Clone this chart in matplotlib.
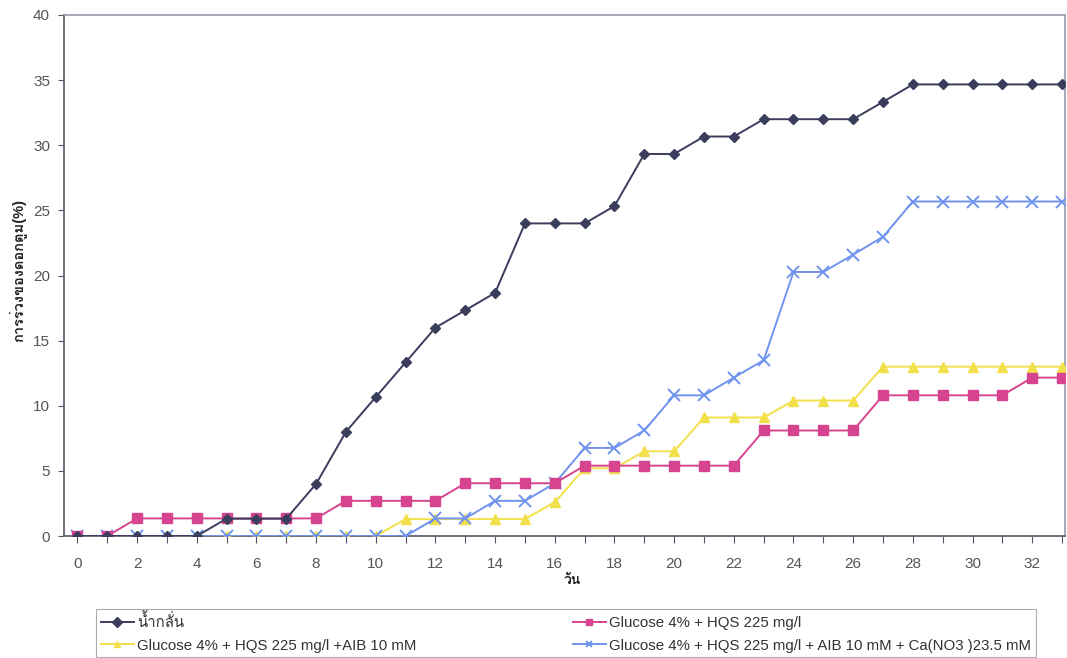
import numpy as np
import matplotlib
matplotlib.use("Agg")
import matplotlib.pyplot as plt
from matplotlib import font_manager, ft2font

# Data

days = list(range(0, 34))
water = [0, 0, 0, 0, 0, 1.33, 1.33, 1.33, 4.0, 8.0,
         10.67, 13.33, 16.0, 17.33, 18.67, 24.0, 24.0, 24.0, 25.33, 29.33,
         29.33, 30.67, 30.67, 32.0, 32.0, 32.0, 32.0, 33.33, 34.67, 34.67,
         34.67, 34.67, 34.67, 34.67]
glu_hqs = [0, 0, 1.35, 1.35, 1.35, 1.35, 1.35, 1.35, 1.35, 2.7,
           2.7, 2.7, 2.7, 4.05, 4.05, 4.05, 4.05, 5.4, 5.4, 5.4,
           5.4, 5.4, 5.4, 8.1, 8.1, 8.1, 8.1, 10.8, 10.8, 10.8,
           10.8, 10.8, 12.16, 12.16]
glu_hqs_aib = [0, 0, 0, 0, 0, 0, 0, 0, 0, 0,
               0, 1.3, 1.3, 1.3, 1.3, 1.3, 2.6, 5.2, 5.2, 6.5,
               6.5, 9.1, 9.1, 9.1, 10.4, 10.4, 10.4, 13.0, 13.0, 13.0,
               13.0, 13.0, 13.0, 13.0]
glu_hqs_aib_ca = [0, 0, 0, 0, 0, 0, 0, 0, 0, 0,
                  0, 0, 1.35, 1.35, 2.7, 2.7, 4.05, 6.76, 6.76, 8.1,
                  10.8, 10.8, 12.16, 13.5, 20.27, 20.27, 21.6, 22.97, 25.68, 25.68,
                  25.68, 25.68, 25.68, 25.68]

labels = ["น้ำกลั่น",
          "Glucose 4% + HQS 225 mg/l",
          "Glucose 4% + HQS 225 mg/l +AIB 10 mM",
          "Glucose 4% + HQS 225 mg/l + AIB 10 mM + Ca(NO3 )23.5 mM"]
xlabel = "วัน"
ylabel = "การร่วงของดอกตูม(%)"
yticks = [0, 5, 10, 15, 20, 25, 30, 35, 40]
xticks = list(range(0, 33, 2))


def thai_family():
    # pick any installed family that has Thai glyphs
    for f in font_manager.fontManager.ttflist:
        try:
            if 0x0E01 in ft2font.FT2Font(f.fname).get_charmap():
                return f.name
        except Exception:
            pass
    return None


thai = thai_family()
families = ["Liberation Sans"] + ([thai] if thai else []) + ["DejaVu Sans"]
plt.rcParams["font.family"] = families

W, H = 1067, 658
fig = plt.figure(figsize=(W/100, H/100), dpi=100)
ax = fig.add_axes([64/W, (H - 536)/H, 1001/W, 521/H])

ax.plot(days, water, color="#3a3d5c", lw=1.4, marker="D", ms=5.5,
        label=labels[0], zorder=5)
ax.plot(days, glu_hqs, color="#d6448f", lw=1.4, marker="s", ms=7,
        label=labels[1], zorder=4)
ax.plot(days, glu_hqs_aib, color="#f2e04a", lw=1.4, marker="^", ms=7,
        label=labels[2], zorder=3)
ax.plot(days, glu_hqs_aib_ca, color="#6f93ee", lw=1.4, marker="x", ms=8,
        mew=1.4, label=labels[3], zorder=3)

ax.set_xlim(-0.45, 33.1)
ax.set_ylim(0, 40)
ax.set_yticks(yticks)
ax.set_xticks(xticks)
ax.set_xticks(days, minor=True)
ax.tick_params(axis="both", which="both", labelsize=11,
               labelcolor="#555555", color="#555566", width=0.8,
               direction="out")
ax.tick_params(axis="x", which="both", length=5, pad=10)
ax.tick_params(axis="y", length=4, pad=6)

for side in ["top", "right"]:
    ax.spines[side].set_color("#9a98aa")
    ax.spines[side].set_linewidth(1.2)
for side in ["left", "bottom"]:
    ax.spines[side].set_color("#555566")
    ax.spines[side].set_linewidth(1.2)

ax.set_ylabel(ylabel, fontsize=10.5, fontweight="bold", color="#222222")
ax.yaxis.set_label_coords(-37/1001, 0.51)
fig.text(572/W, (H - 580)/H, xlabel, fontsize=10, fontweight="bold",
         color="#222222", ha="center", va="center")

handles, labs = ax.get_legend_handles_labels()
order = [0, 2, 1, 3]
leg = fig.legend([handles[i] for i in order], [labs[i] for i in order],
                 loc="upper left", ncol=2,
                 bbox_to_anchor=(96/W, (H - 609)/H),
                 fontsize=10.8, frameon=True, fancybox=False,
                 edgecolor="#999999", handlelength=2.2, handletextpad=0.25,
                 borderpad=0.3, labelspacing=0.55, borderaxespad=0,
                 columnspacing=10.4, labelcolor="#333333")
leg.get_frame().set_linewidth(0.8)
for h in leg.legend_handles:
    h.set_markersize(5)

fig.savefig("out.png", dpi=100)
